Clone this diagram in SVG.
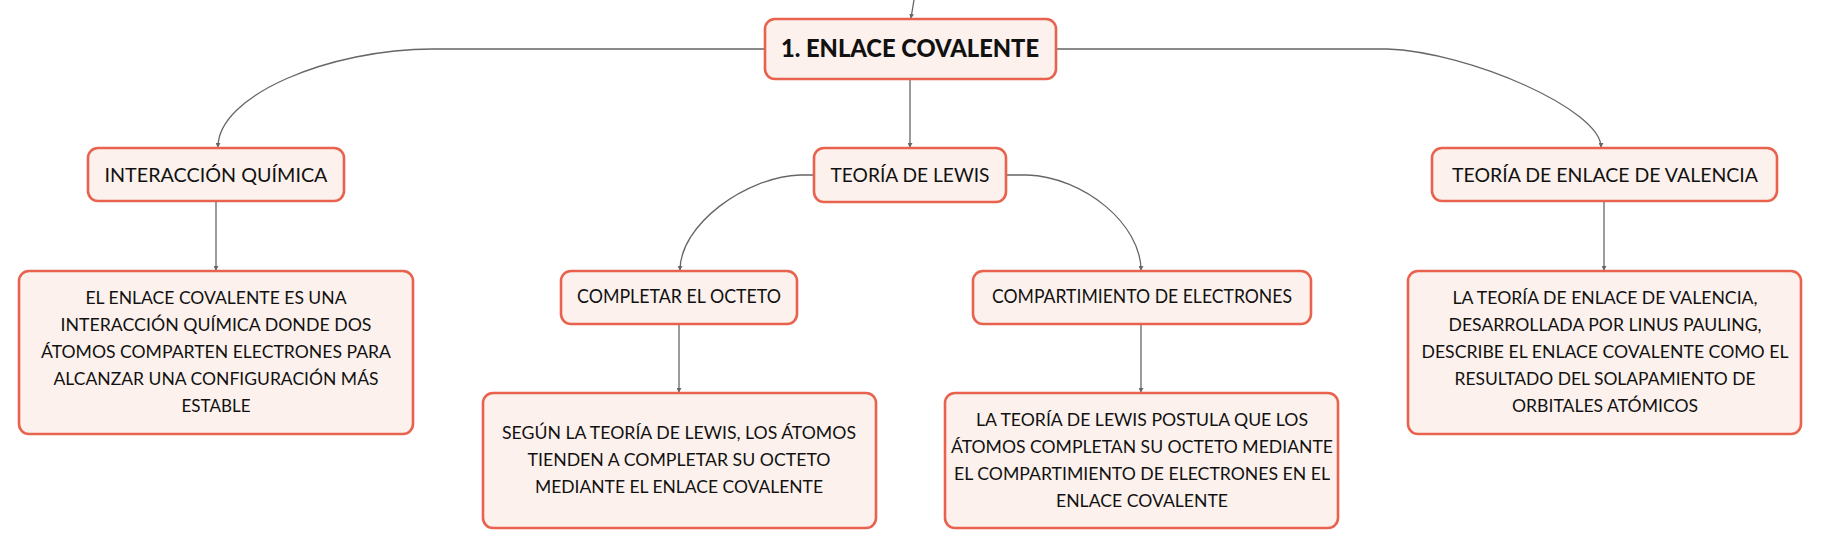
<svg xmlns="http://www.w3.org/2000/svg" width="1821" height="549" viewBox="0 0 1821 549">
<style>
.box{fill:#fdf1ed;stroke:#e8624d;stroke-width:2.6}
.t{font-family:Lato,"Open Sans","Liberation Sans",sans-serif;fill:#111;text-anchor:middle}
.lbl{font-size:19.5px}
.body{font-size:18px}
.root{font-size:25px;font-weight:900}
.c{fill:none;stroke:#666;stroke-width:1.3}
</style>
<defs>
<marker id="a" markerWidth="5" markerHeight="5" refX="4" refY="2.5" orient="auto" markerUnits="userSpaceOnUse">
<path d="M0,0 L4.5,2.5 L0,5 z" fill="#666"/>
</marker>
</defs>
<rect width="1821" height="549" fill="#fff"/>
<g id="connectors">
<path class="c" d="M914,0 L911,18" marker-end="url(#a)"/>
<path class="c" d="M765,49 L433,49 C330,49 218,95 218,147" marker-end="url(#a)"/>
<path class="c" d="M910,79 L910,147" marker-end="url(#a)"/>
<path class="c" d="M1056,49 L1387,49 C1470,52 1601,110 1601,147" marker-end="url(#a)"/>
<path class="c" d="M813,175 L800,175 C745,177 680,225 680,270" marker-end="url(#a)"/>
<path class="c" d="M1006,175 L1027,175 C1085,177 1141,225 1141,270" marker-end="url(#a)"/>
<path class="c" d="M216,201 L216,270" marker-end="url(#a)"/>
<path class="c" d="M679,324 L679,392" marker-end="url(#a)"/>
<path class="c" d="M1141,324 L1141,392" marker-end="url(#a)"/>
<path class="c" d="M1604,201 L1604,270" marker-end="url(#a)"/>
</g>
<g id="root">
<rect class="box" x="765" y="19" width="291" height="60" rx="10"/>
<text class="t root" x="910" y="57" textLength="258" lengthAdjust="spacingAndGlyphs">1. ENLACE COVALENTE</text>
</g>
<g id="interaccion">
<rect class="box" x="88" y="148" width="256" height="53" rx="10"/>
<text class="t lbl" x="216" y="182" textLength="223" lengthAdjust="spacingAndGlyphs">INTERACCIÓN QUÍMICA</text>
</g>
<g id="lewis">
<rect class="box" x="814" y="148" width="192" height="54" rx="10"/>
<text class="t lbl" x="910" y="182" textLength="159" lengthAdjust="spacingAndGlyphs">TEORÍA DE LEWIS</text>
</g>
<g id="valencia">
<rect class="box" x="1432" y="148" width="345" height="53" rx="10"/>
<text class="t lbl" x="1605" y="182" textLength="306" lengthAdjust="spacingAndGlyphs">TEORÍA DE ENLACE DE VALENCIA</text>
</g>
<g id="interaccion-desc">
<rect class="box" x="19" y="271" width="394" height="163" rx="10"/>
<text class="t body" x="216" y="304" textLength="261" lengthAdjust="spacingAndGlyphs">EL ENLACE COVALENTE ES UNA</text>
<text class="t body" x="216" y="331" textLength="311" lengthAdjust="spacingAndGlyphs">INTERACCIÓN QUÍMICA DONDE DOS</text>
<text class="t body" x="216" y="358" textLength="350" lengthAdjust="spacingAndGlyphs">ÁTOMOS COMPARTEN ELECTRONES PARA</text>
<text class="t body" x="216" y="385" textLength="325" lengthAdjust="spacingAndGlyphs">ALCANZAR UNA CONFIGURACIÓN MÁS</text>
<text class="t body" x="216" y="412" textLength="69" lengthAdjust="spacingAndGlyphs">ESTABLE</text>
</g>
<g id="completar">
<rect class="box" x="561" y="271" width="236" height="53" rx="10"/>
<text class="t lbl" x="679" y="303" textLength="204" lengthAdjust="spacingAndGlyphs">COMPLETAR EL OCTETO</text>
</g>
<g id="compartimiento">
<rect class="box" x="973" y="271" width="338" height="53" rx="10"/>
<text class="t lbl" x="1142" y="303" textLength="300" lengthAdjust="spacingAndGlyphs">COMPARTIMIENTO DE ELECTRONES</text>
</g>
<g id="completar-desc">
<rect class="box" x="483" y="393" width="393" height="135" rx="10"/>
<text class="t body" x="679" y="439" textLength="354" lengthAdjust="spacingAndGlyphs">SEGÚN LA TEORÍA DE LEWIS, LOS ÁTOMOS</text>
<text class="t body" x="679" y="466" textLength="303" lengthAdjust="spacingAndGlyphs">TIENDEN A COMPLETAR SU OCTETO</text>
<text class="t body" x="679" y="493" textLength="288" lengthAdjust="spacingAndGlyphs">MEDIANTE EL ENLACE COVALENTE</text>
</g>
<g id="compartimiento-desc">
<rect class="box" x="945" y="393" width="393" height="135" rx="10"/>
<text class="t body" x="1142" y="426" textLength="332" lengthAdjust="spacingAndGlyphs">LA TEORÍA DE LEWIS POSTULA QUE LOS</text>
<text class="t body" x="1142" y="453" textLength="382" lengthAdjust="spacingAndGlyphs">ÁTOMOS COMPLETAN SU OCTETO MEDIANTE</text>
<text class="t body" x="1142" y="480" textLength="376" lengthAdjust="spacingAndGlyphs">EL COMPARTIMIENTO DE ELECTRONES EN EL</text>
<text class="t body" x="1142" y="507" textLength="172" lengthAdjust="spacingAndGlyphs">ENLACE COVALENTE</text>
</g>
<g id="valencia-desc">
<rect class="box" x="1408" y="271" width="393" height="163" rx="10"/>
<text class="t body" x="1605" y="304" textLength="305" lengthAdjust="spacingAndGlyphs">LA TEORÍA DE ENLACE DE VALENCIA,</text>
<text class="t body" x="1605" y="331" textLength="313" lengthAdjust="spacingAndGlyphs">DESARROLLADA POR LINUS PAULING,</text>
<text class="t body" x="1605" y="358" textLength="367" lengthAdjust="spacingAndGlyphs">DESCRIBE EL ENLACE COVALENTE COMO EL</text>
<text class="t body" x="1605" y="385" textLength="301" lengthAdjust="spacingAndGlyphs">RESULTADO DEL SOLAPAMIENTO DE</text>
<text class="t body" x="1605" y="412" textLength="186" lengthAdjust="spacingAndGlyphs">ORBITALES ATÓMICOS</text>
</g>
</svg>
